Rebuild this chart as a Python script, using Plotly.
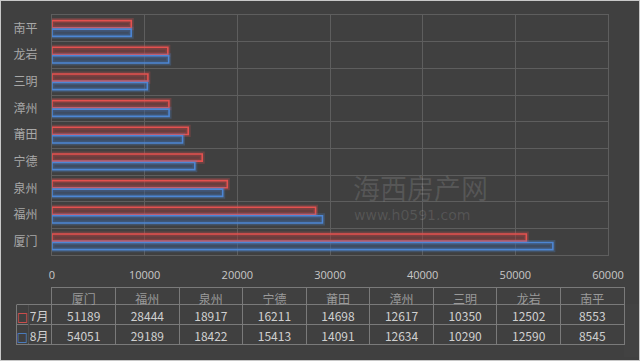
import plotly.graph_objects as go

cities = ["厦门", "福州", "泉州", "宁德", "莆田", "漳州", "三明", "龙岩", "南平"]
jul = [51189, 28444, 18917, 16211, 14698, 12617, 10350, 12502, 8553]
aug = [54051, 29189, 18422, 15413, 14091, 12634, 10290, 12590, 8545]
series_names = ["7月", "8月"]
x_ticks = [0, 10000, 20000, 30000, 40000, 50000, 60000]

W, H = 640, 361
BG = "#404040"
GRID = "#5e5e5e"
TLINE = "#7a7a7a"
RED = "#e4514f"
BLUE = "#4d86d4"
TXT = "#d0d0d0"

ypos = list(range(len(cities)))

fig = go.Figure()

def add_series(vals, color, glow, fill, offset, name):
    fig.add_trace(go.Bar(
        x=vals, y=ypos, orientation="h", width=0.27, offset=offset,
        marker=dict(color="rgba(0,0,0,0)", line=dict(color=glow, width=5)),
        hoverinfo="skip", showlegend=False))
    fig.add_trace(go.Bar(
        x=vals, y=ypos, orientation="h", width=0.27, offset=offset, name=name,
        marker=dict(color=fill, line=dict(color=color, width=1.6)),
        showlegend=False))

add_series(jul, RED, "rgba(228,81,79,0.25)", "rgba(150,60,60,0.45)", 0.02, series_names[0])
add_series(aug, BLUE, "rgba(77,134,212,0.25)", "rgba(60,90,140,0.45)", -0.30, series_names[1])

NB = "\u00a0"
header_vals = ["", ""] + cities
cell_vals = [["□", "□"], [n + NB for n in series_names]]
for j, a in zip(jul, aug):
    cell_vals.append([str(j), str(a)])
ncol = len(cities)
font_colors = [[RED, BLUE], [TXT, TXT]] + [[TXT, TXT]] * ncol
font_sizes = [12, 12] + [12] * ncol
font_fams = ["DejaVu Sans", "Noto Sans CJK SC"] + ["Noto Sans CJK SC, Open Sans"] * ncol

fig.add_trace(go.Table(
    domain=dict(x=[16 / W, 624 / W], y=[4 / H, 1 - 287 / H]),
    columnwidth=[13, 23] + [63.6] * ncol,
    header=dict(values=header_vals, height=17, fill_color=BG,
                line=dict(color=[BG, BG] + [TLINE] * ncol, width=1),
                font=dict(family="Noto Sans CJK SC", size=12, color="#9a9a9a"),
                align="center"),
    cells=dict(values=cell_vals, height=20, fill_color=BG,
               line=dict(color=TLINE, width=1),
               font=dict(family=font_fams, size=font_sizes, color=font_colors),
               align="center"),
))

fig.update_layout(
    width=W, height=H,
    paper_bgcolor=BG, plot_bgcolor=BG,
    margin=dict(l=0, r=0, t=0, b=0),
    barmode="overlay",
    showlegend=False,
    xaxis=dict(domain=[52 / W, 608 / W], range=[0, 60000], tickvals=x_ticks,
               ticktext=[str(v) for v in x_ticks], automargin=False,
               showgrid=True, gridcolor=GRID, gridwidth=1, zeroline=False,
               showline=True, linecolor=GRID, mirror=True,
               tickfont=dict(family="Open Sans", size=11, color="#c8c8c8"),
               ticklabelstandoff=10, fixedrange=True),
    yaxis=dict(domain=[1 - 255 / H, 1 - 15 / H], range=[-0.5, len(cities) - 0.5],
               tickvals=ypos, ticktext=cities, showgrid=False, zeroline=False,
               showline=True, linecolor=GRID, mirror=True, automargin=False,
               minor=dict(tick0=0.5, dtick=1, showgrid=True, gridcolor=GRID, gridwidth=1, ticklen=0),
               tickfont=dict(family="Noto Sans CJK SC", size=12, color="#a8a8a8"),
               ticklabelstandoff=11, fixedrange=True),
    shapes=[
        dict(type="rect", xref="paper", yref="paper", x0=0, y0=0, x1=1, y1=1,
             line=dict(color="#c8c8c8", width=2)),
        # hide the divider between the legend swatch and legend label sub-columns
        dict(type="line", xref="paper", yref="paper", x0=29 / W, x1=29 / W,
             y0=1 - 305 / H, y1=1 - 343.5 / H, line=dict(color=BG, width=1.5)),
        # top border of the legend cells
        dict(type="line", xref="paper", yref="paper", x0=16.5 / W, x1=52 / W,
             y0=1 - 304.5 / H, y1=1 - 304.5 / H, line=dict(color=TLINE, width=1)),
    ],
    annotations=[
        dict(text="海西房产网", xref="paper", yref="paper", x=420 / W, y=1 - 187 / H,
             showarrow=False, font=dict(family="Noto Sans CJK SC", size=27, color="rgba(255,255,255,0.12)")),
        dict(text="www.h0591.com", xref="paper", yref="paper", x=412 / W, y=1 - 215 / H,
             showarrow=False, font=dict(family="DejaVu Sans", size=14, color="rgba(255,255,255,0.12)")),
    ],
)

fig.write_html("out.html", config={"displayModeBar": False},
               post_script="document.body.style.margin='0';document.body.style.padding='0';")
